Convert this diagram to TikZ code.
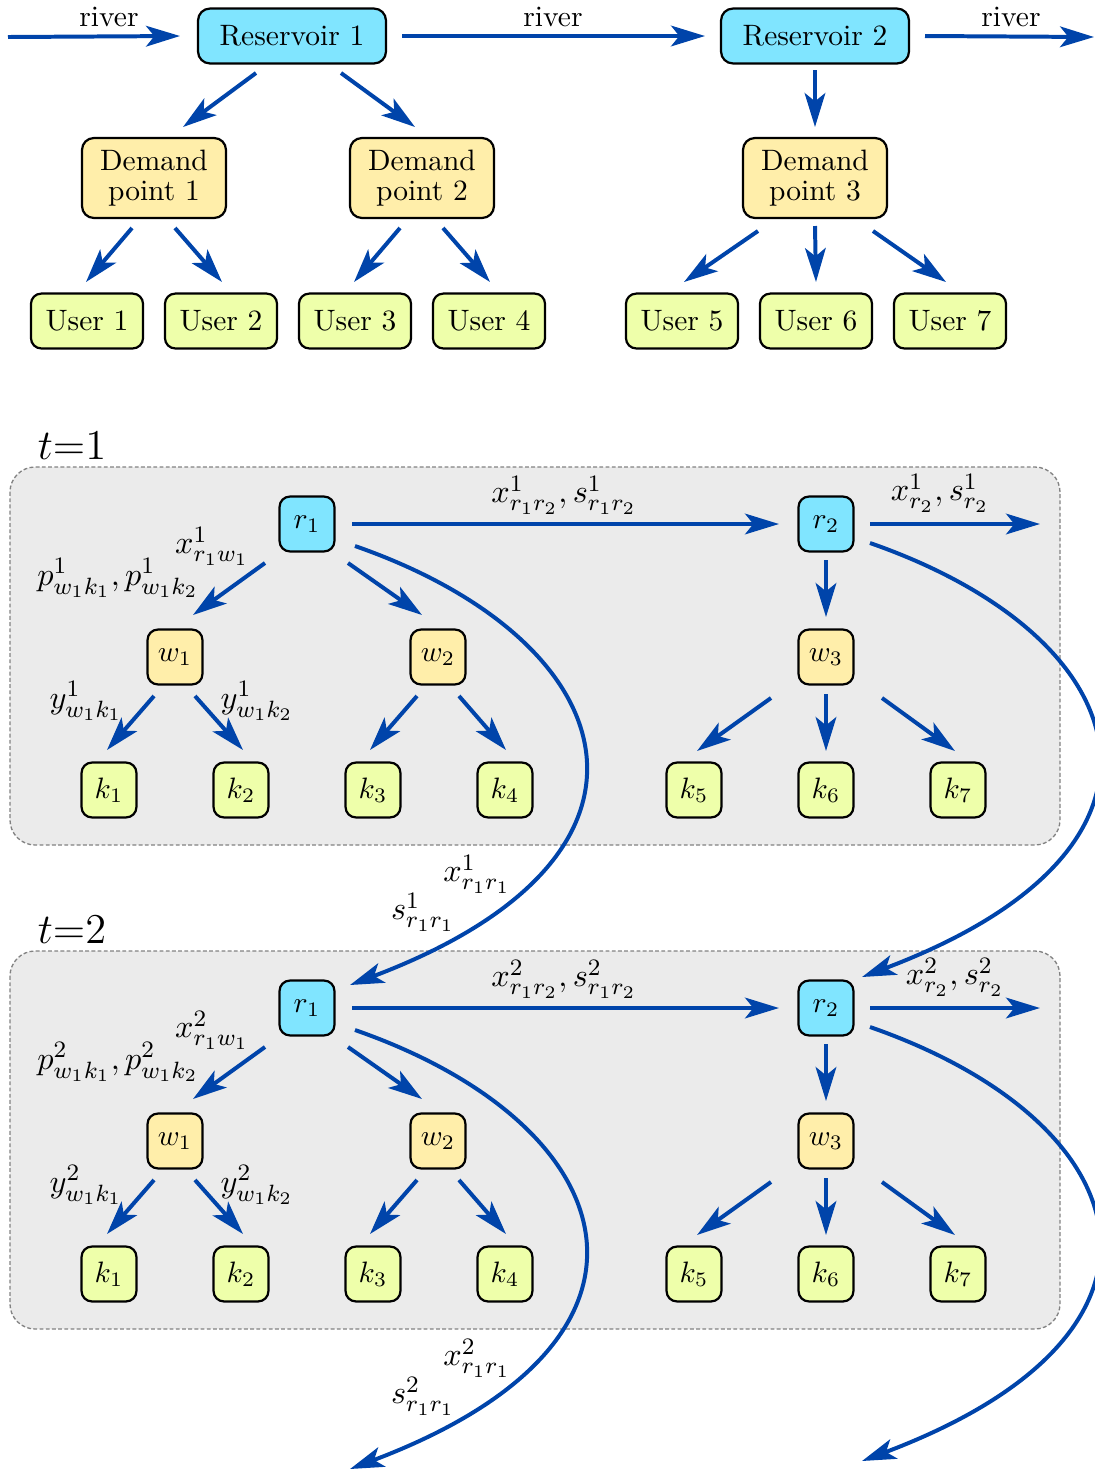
\documentclass[tikz,border=0pt]{standalone}
\usetikzlibrary{arrows.meta,calc}
\definecolor{flowblue}{RGB}{0,68,170}
\definecolor{rescol}{RGB}{128,229,255}
\definecolor{demcol}{RGB}{255,238,170}
\definecolor{usercol}{RGB}{238,255,170}
\definecolor{panelcol}{RGB}{235,235,235}
\definecolor{panelline}{RGB}{130,130,130}
\begin{document}
\begin{tikzpicture}[x=0.339pt,y=-0.339pt,
 flow/.style={draw=flowblue, line width=1.35pt, -{Stealth[length=11.5pt,width=7pt,inset=2.8pt]}},
 box/.style={draw=black, line width=0.75pt, rounded corners=3.5pt, inner sep=0pt, align=center},
 resbox/.style={box, fill=rescol, minimum width=63.7pt, minimum height=18.6pt, rounded corners=4pt},
 dembox/.style={box, fill=demcol, minimum width=48.8pt, minimum height=27.1pt, rounded corners=4pt},
 userbox/.style={box, fill=usercol, minimum width=38pt, minimum height=18.6pt},
 rbox/.style={box, fill=rescol, minimum size=18.6pt},
 wbox/.style={box, fill=demcol, minimum size=18.6pt},
 kbox/.style={box, fill=usercol, minimum size=18.6pt},
 panel/.style={fill=panelcol, draw=panelline, dash pattern=on 1.3pt off 0.8pt, line width=0.45pt, rounded corners=8.5pt},
 lab/.style={inner sep=0pt},
 mlab/.style={inner sep=0pt, font=\fontsize{10.95}{13}\selectfont},
]
\useasboundingbox (0,0) rectangle (1094,1469);

% ---------- top: physical system ----------
\node[resbox] (R1) at (292,36) {Reservoir 1};
\node[resbox] (R2) at (815,36) {Reservoir 2};
\node[dembox] (D1) at (154,178) {Demand\\[-1.8pt]point 1};
\node[dembox] (D2) at (422,178) {Demand\\[-1.8pt]point 2};
\node[dembox] (D3) at (815,178) {Demand\\[-1.8pt]point 3};
\node[userbox] (U1) at (87,321) {User 1};
\node[userbox] (U2) at (221,321) {User 2};
\node[userbox] (U3) at (355,321) {User 3};
\node[userbox] (U4) at (489,321) {User 4};
\node[userbox] (U5) at (682,321) {User 5};
\node[userbox] (U6) at (816,321) {User 6};
\node[userbox] (U7) at (950,321) {User 7};
\coordinate (rin) at (8,37);
\coordinate (rout) at (1094,37);
\node[lab] (rv1) at (109,17) {river};
\node[lab] (rv2) at (553,17) {river};
\node[lab] (rv3) at (1011,17) {river};

\draw[flow] (rin) -- ($(R1)+(-112,0)$);
\draw[flow] ($(R1)+(110,0)$) -- ($(R2)+(-110,0)$);
\draw[flow] ($(R2)+(110,0)$) -- (rout);
\draw[flow] ($(R1)+(-36,37)$) -- ($(D1)+(29,-51)$);
\draw[flow] ($(R1)+(49,37)$) -- ($(D2)+(-7,-51)$);
\draw[flow] ($(R2)+(0,34)$) -- ($(D3)+(0,-51)$);
\draw[flow] ($(D1)+(-22,50)$) -- ($(U1)+(-1,-39)$);
\draw[flow] ($(D1)+(21,50)$) -- ($(U2)+(1,-39)$);
\draw[flow] ($(D2)+(-22,50)$) -- ($(U3)+(-1,-39)$);
\draw[flow] ($(D2)+(21,50)$) -- ($(U4)+(1,-39)$);
\draw[flow] ($(D3)+(-57,53)$) -- ($(U5)+(2,-39)$);
\draw[flow] ($(D3)+(0,48)$) -- ($(U6)+(0,-39)$);
\draw[flow] ($(D3)+(58,53)$) -- ($(U7)+(-4,-39)$);

% ---------- bottom: time stages ----------
\foreach \t/\dy/\xo/\yo in {1/0/940/493,2/484/955/977}{
  \draw[panel] (10,467+\dy) rectangle (1060,845+\dy);
  \node[lab,font=\fontsize{14}{16}\selectfont] (tl\t) at (72,446+\dy) {$t{=}\t$};
  \node[rbox] (r1-\t) at (307,524+\dy) {$r_1$};
  \node[rbox] (r2-\t) at (826,524+\dy) {$r_2$};
  \node[wbox] (w1-\t) at (175,657+\dy) {$w_1$};
  \node[wbox] (w2-\t) at (438,657+\dy) {$w_2$};
  \node[wbox] (w3-\t) at (826,657+\dy) {$w_3$};
  \node[kbox] (k1-\t) at (109,790+\dy) {$k_1$};
  \node[kbox] (k2-\t) at (241,790+\dy) {$k_2$};
  \node[kbox] (k3-\t) at (373,790+\dy) {$k_3$};
  \node[kbox] (k4-\t) at (505,790+\dy) {$k_4$};
  \node[kbox] (k5-\t) at (694,790+\dy) {$k_5$};
  \node[kbox] (k6-\t) at (826,790+\dy) {$k_6$};
  \node[kbox] (k7-\t) at (958,790+\dy) {$k_7$};
  \coordinate (out\t) at (1040,524+\dy);
  \node[mlab] (xrr\t) at (564,495+\dy) {$x^{\t}_{r_1r_2}, s^{\t}_{r_1r_2}$};
  \node[mlab] (xro\t) at (\xo,\yo) {$x^{\t}_{r_2}, s^{\t}_{r_2}$};
  \node[mlab] (xrw\t) at (212,546+\dy) {$x^{\t}_{r_1w_1}$};
  \node[mlab] (pl\t) at (118,578+\dy) {$p^{\t}_{w_1k_1},p^{\t}_{w_1k_2}$};
  \node[mlab] (ya\t) at (86,701+\dy) {$y^{\t}_{w_1k_1}$};
  \node[mlab] (yb\t) at (257,701+\dy) {$y^{\t}_{w_1k_2}$};
  \node[mlab] (cx\t) at (477,874+\dy) {$x^{\t}_{r_1r_1}$};
  \node[mlab] (cs\t) at (423,912+\dy) {$s^{\t}_{r_1r_1}$};
}
\coordinate (r1-3) at (307,1492);
\coordinate (r2-3) at (826,1492);

\foreach \t/\n in {1/2,2/3}{
  \draw[flow] ($(r1-\t)+(45,0)$) -- ($(r2-\t)+(-47,0)$);
  \draw[flow] ($(r2-\t)+(44,0)$) -- (out\t);
  \draw[flow] ($(r1-\t)+(-42,39)$) -- ($(w1-\t)+(18,-42)$);
  \draw[flow] ($(r1-\t)+(41,39)$) -- ($(w2-\t)+(-16,-42)$);
  \draw[flow] ($(r2-\t)+(0,36)$) -- ($(w3-\t)+(0,-40)$);
  \draw[flow] ($(w1-\t)+(-21,39)$) -- ($(k1-\t)+(-2,-40)$);
  \draw[flow] ($(w1-\t)+(20,39)$) -- ($(k2-\t)+(2,-40)$);
  \draw[flow] ($(w2-\t)+(-21,39)$) -- ($(k3-\t)+(-3,-40)$);
  \draw[flow] ($(w2-\t)+(21,39)$) -- ($(k4-\t)+(1,-40)$);
  \draw[flow] ($(w3-\t)+(-55,41)$) -- ($(k5-\t)+(3,-39)$);
  \draw[flow] ($(w3-\t)+(0,37)$) -- ($(k6-\t)+(0,-39)$);
  \draw[flow] ($(w3-\t)+(56,41)$) -- ($(k7-\t)+(-3,-39)$);
  \draw[flow] ($(r1-\t)+(48,22)$) .. controls +(270,94) and +(345,-130) .. ($(r1-\n)+(43,-23)$);
  \draw[flow] ($(r2-\t)+(44,19)$) .. controls +(270,94) and +(345,-130) .. ($(r2-\n)+(36,-31)$);
}
\end{tikzpicture}
\end{document}
